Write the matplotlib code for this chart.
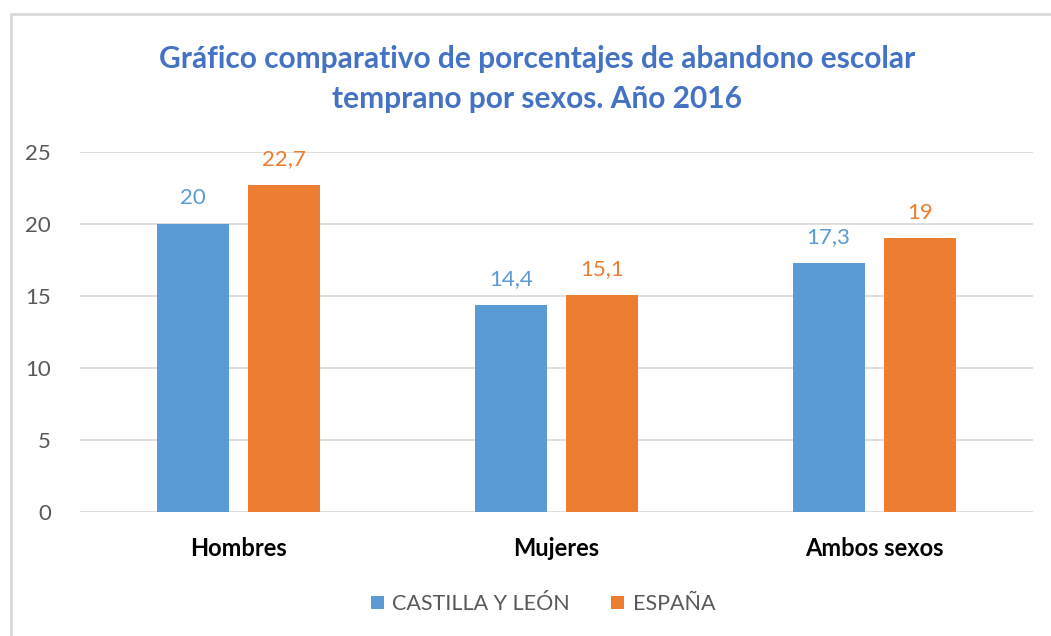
import numpy as np
import matplotlib.pyplot as plt
import matplotlib.patches as patches

categories = ['Hombres', 'Mujeres', 'Ambos sexos']
castilla = [20, 14.4, 17.3]
espana = [22.7, 15.1, 19]
series_names = ['CASTILLA Y LEÓN', 'ESPAÑA']
yticks = [0, 5, 10, 15, 20, 25]

blue = '#5B9BD5'
orange = '#ED7D31'

plt.rcParams['font.family'] = ['Lato', 'DejaVu Sans']

fig = plt.figure(figsize=(10.51, 6.36), dpi=100)
ax = fig.add_axes([80 / 1051, 124 / 636, 953 / 1051, 360 / 636])

# frame of the chart area (right/bottom edges fall outside the picture)
fig.patches.append(patches.Rectangle((11 / 1051, -0.05), 1.1, (636 - 14) / 636 + 0.05,
                                     transform=fig.transFigure, fill=False,
                                     edgecolor='#D9D9D9', linewidth=2))

x = np.arange(len(categories))
w = 0.227
off = (w + 0.06) / 2
b1 = ax.bar(x - off, castilla, w, color=blue, label=series_names[0], zorder=2)
b2 = ax.bar(x + off, espana, w, color=orange, label=series_names[1], zorder=2)

def fmt(v):
    return ('%g' % v).replace('.', ',')

for bars, vals, c in [(b1, castilla, blue), (b2, espana, orange)]:
    for rect, v in zip(bars, vals):
        ax.text(rect.get_x() + rect.get_width() / 2, v + 1.1, fmt(v),
                ha='center', va='bottom', color=c, fontsize=16)

ax.set_xlim(-0.5, 2.5)
ax.set_ylim(0, 25)
ax.set_yticks(yticks)
ax.set_yticklabels([str(t) for t in yticks], fontsize=16, color='#595959')
ax.set_xticks(x)
ax.set_xticklabels(categories, fontsize=17, fontweight='bold', color='black')
ax.tick_params(axis='both', length=0)
ax.tick_params(axis='y', pad=21)
ax.tick_params(axis='x', pad=18)
ax.grid(axis='y', color='#D9D9D9', linewidth=1.2, zorder=0)
for s in ax.spines.values():
    s.set_visible(False)

fig.text(537 / 1051, 1 - 59 / 636, 'Gráfico comparativo de porcentajes de abandono escolar',
         ha='center', va='center', fontsize=21.5, fontweight='bold', color='#4472C4')
fig.text(537 / 1051, 1 - 99 / 636, 'temprano por sexos. Año 2016',
         ha='center', va='center', fontsize=21.5, fontweight='bold', color='#4472C4')

leg = fig.legend(loc='center', bbox_to_anchor=(543 / 1051, 1 - 604 / 636), ncol=2,
                 frameon=False, fontsize=15.5, handlelength=0.6, handleheight=0.6,
                 columnspacing=1.9, handletextpad=0.4)
for t in leg.get_texts():
    t.set_color('#595959')

fig.savefig('out.png', dpi=100)
